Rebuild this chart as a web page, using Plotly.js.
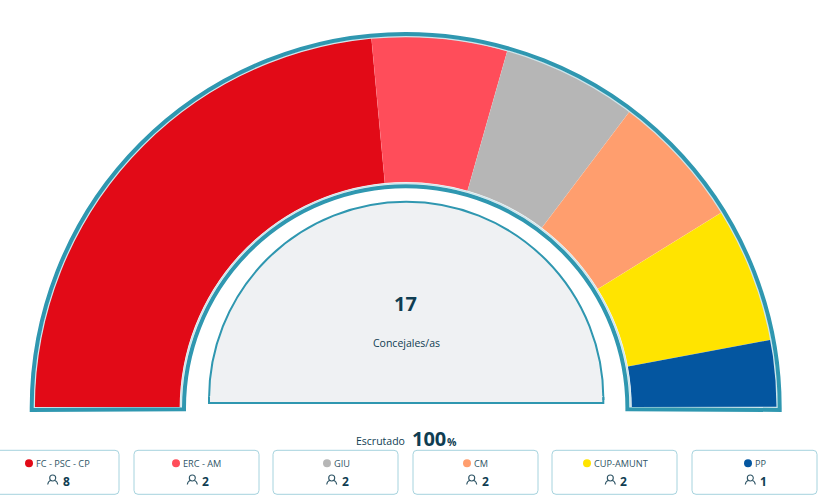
<!DOCTYPE html>
<html><head><meta charset="utf-8">
<script src="https://cdn.plot.ly/plotly-3.0.1.min.js"></script>
<style>html,body{margin:0;padding:0;background:#fff;overflow:hidden}#c{width:823px;height:502px}</style>
</head><body><div id="c"></div>
<script>
// ---- data ----
const parties = ['FC - PSC - CP','ERC - AM','GIU','CM','CUP-AMUNT','PP'];
const seats = [8,2,2,2,2,1];
const totalSeats = 17;
const scrutinised = 100;
const colors = ['#e20a17','#ff4d5a','#b6b6b6','#ff9e6e','#ffe400','#0456a0'];
const caption = 'Concejales/as';
const scrutinyLabel = 'Escrutado';

// ---- layout constants (pixels in the 823x502 frame) ----
const W=823,H=502, CX=405.7, CY=408, RMAX=380, SPILL=3;
const rIn=226, rOut=371.5;
const teal='#2f97b0', light='#cfe6ec', ink='#0f3d52', label='#2f5566', cardLine='#a6d3de', paleFill='#eff1f3';
const cardLeft=[-6,134,273,413,552,692], cardW=125, cardTop=450.3, cardBot=494.3;
const dotX=[29,176,327,467,587,748], iconX=[52.7,192.3,331.7,471.7,610.3,750.3];
const px=x=>x/W, py=y=>1-y/H;

// angular positions derived from the seat counts
let cum=0;
const theta=[],width=[];
seats.forEach(s=>{ theta.push(180-(cum+s/2)*180/totalSeats); width.push(s*180/totalSeats); cum+=s; });

const hemi={type:'barpolar',subplot:'polar',hoverinfo:'skip',showlegend:false};
const traces=[
 Object.assign({},hemi,{theta,width,r:seats.map(()=>rOut-rIn),base:seats.map(()=>rIn),
   marker:{color:colors,line:{color:'rgba(255,255,255,0.12)',width:0.6}}}),
 Object.assign({},hemi,{theta:[90],width:[179.85],r:[146.8],base:[224.8],
   marker:{color:'rgba(0,0,0,0)',line:{color:light,width:1.6}}}),
 Object.assign({},hemi,{theta:[90],width:[180.6],r:[152.3],base:[221.7],
   marker:{color:'rgba(0,0,0,0)',line:{color:teal,width:4}}}),
 {type:'barpolar',subplot:'polar2',hoverinfo:'skip',showlegend:false,theta:[90],width:[180],r:[197.2],base:[0],
   marker:{color:paleFill,line:{color:teal,width:2}}}
];

const hiddenPolar=(cx,cy,rmax)=>({
  domain:{x:[px(cx-rmax),px(cx+rmax)],y:[py(cy+rmax*Math.sin(SPILL*Math.PI/180)),py(cy-rmax)]},
  sector:[-SPILL,180+SPILL],bgcolor:'rgba(0,0,0,0)',barmode:'overlay',
  radialaxis:{visible:false,range:[0,rmax]},
  angularaxis:{visible:false,direction:'counterclockwise',rotation:0}
});

const font='"Open Sans", sans-serif';
const ann=(x,y,text,size,color,anchor,bold)=>({xref:'paper',yref:'paper',x:px(x),y:py(y),
  text:bold?'<b>'+text+'</b>':text,showarrow:false,xanchor:anchor,yanchor:'middle',
  font:{family:font,size,color}});

const annotations=[
 ann(405.5,303.5,String(totalSeats),20,ink,'center',true),
 ann(406,342.5,caption,10.5,ink,'center',false),
 ann(407,441,scrutinyLabel,10.5,ink,'right',false),
 ann(410,438.5,String(scrutinised),20,ink,'left',true),
 ann(445,441.5,'%',10.5,ink,'left',true)
];
const X=px,Y=py;
const shapes=[
 // straight foot of the inner panel
 {type:'rect',xref:'paper',yref:'paper',x0:X(209.7),x1:X(602.5),y0:Y(403),y1:Y(396),fillcolor:paleFill,line:{width:0}},
 {type:'path',xref:'paper',yref:'paper',fillcolor:'rgba(0,0,0,0)',line:{color:teal,width:2},
  path:`M${X(209)},${Y(397)} L${X(209)},${Y(403)} L${X(603.3)},${Y(403)} L${X(603.3)},${Y(397)}`}
];
parties.forEach((p,i)=>{
  const l=cardLeft[i],r=l+cardW,t=cardTop,b=cardBot,k=4;
  shapes.push({type:'path',xref:'paper',yref:'paper',line:{color:cardLine,width:1},fillcolor:'rgba(0,0,0,0)',
    path:`M${X(l+k)},${Y(t)} L${X(r-k)},${Y(t)} Q${X(r)},${Y(t)} ${X(r)},${Y(t+k)} L${X(r)},${Y(b-k)} Q${X(r)},${Y(b)} ${X(r-k)},${Y(b)} L${X(l+k)},${Y(b)} Q${X(l)},${Y(b)} ${X(l)},${Y(b-k)} L${X(l)},${Y(t+k)} Q${X(l)},${Y(t)} ${X(l+k)},${Y(t)} Z`});
  const d=dotX[i];
  shapes.push({type:'circle',xref:'paper',yref:'paper',x0:X(d-4),x1:X(d+4),y0:Y(467.3),y1:Y(459.3),
    fillcolor:colors[i],line:{width:0}});
  annotations.push(ann(d+5,463.5,p,9.2,label,'left',false));
  // person icon
  const c=iconX[i];
  shapes.push({type:'circle',xref:'paper',yref:'paper',x0:X(c-3),x1:X(c+3),y0:Y(481),y1:Y(475),
    fillcolor:'rgba(0,0,0,0)',line:{color:label,width:1.1}});
  shapes.push({type:'path',xref:'paper',yref:'paper',fillcolor:'rgba(0,0,0,0)',line:{color:label,width:1.1},
    path:`M${X(c-5)},${Y(484.5)} Q${X(c-4.5)},${Y(481)} ${X(c-2)},${Y(480.5)} M${X(c+5)},${Y(484.5)} Q${X(c+4.5)},${Y(481)} ${X(c+2)},${Y(480.5)}`});
  annotations.push(ann(c+8,481,String(seats[i]),12,ink,'left',true));
});

Plotly.newPlot('c',traces,{
  width:W,height:H,margin:{l:0,r:0,t:0,b:0},paper_bgcolor:'#fff',showlegend:false,
  polar:hiddenPolar(CX,CY,RMAX),
  polar2:hiddenPolar(406.2,399,200),
  annotations,shapes
},{displayModeBar:false,staticPlot:true});
</script></body></html>
